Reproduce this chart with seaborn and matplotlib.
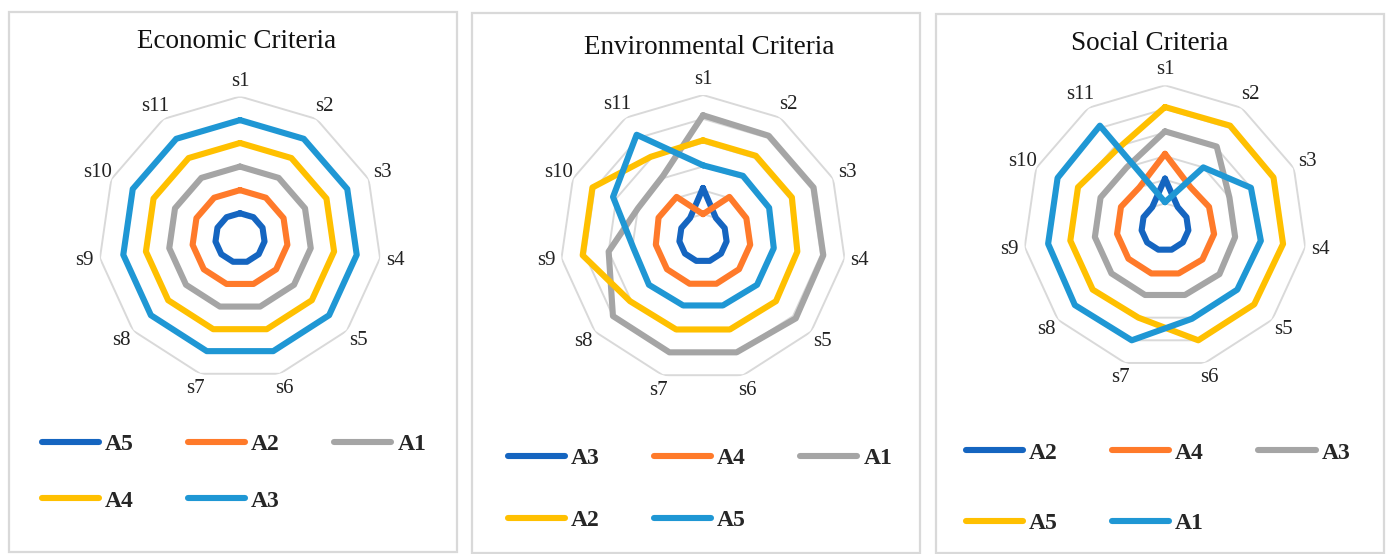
import numpy as np
import pandas as pd
import matplotlib
matplotlib.use("Agg")
import matplotlib.pyplot as plt
import seaborn as sns
from matplotlib.lines import Line2D
from matplotlib.patches import Rectangle

# ---------------- data ----------------
categories = ["s1", "s2", "s3", "s4", "s5", "s6", "s7", "s8", "s9", "s10", "s11"]

econ_title = "Economic Criteria"
econ_series = ["A5", "A2", "A1", "A4", "A3"]
econ_A5 = [1.05, 1.05, 1.05, 1.05, 1.05, 1.05, 1.05, 1.05, 1.05, 1.05, 1.05]
econ_A2 = [2.03, 2.03, 2.03, 2.03, 2.03, 2.03, 2.03, 2.03, 2.03, 2.03, 2.03]
econ_A1 = [3.03, 3.03, 3.03, 3.03, 3.03, 3.03, 3.03, 3.03, 3.03, 3.03, 3.03]
econ_A4 = [4.03, 4.03, 4.03, 4.03, 4.03, 4.03, 4.03, 4.03, 4.03, 4.03, 4.03]
econ_A3 = [5.0, 5.0, 5.0, 5.0, 5.0, 5.0, 5.0, 5.0, 5.0, 5.0, 5.0]

env_title = "Environmental Criteria"
env_series = ["A3", "A4", "A1", "A2", "A5"]
env_A3 = [2.1, 1.0, 1.0, 1.0, 1.0, 1.0, 1.0, 1.0, 1.0, 1.0, 1.0]
env_A4 = [1.0, 2.05, 2.0, 2.0, 2.0, 2.0, 2.0, 2.0, 2.0, 2.05, 2.05]
env_A1 = [5.15, 5.1, 5.1, 5.1, 5.15, 5.0, 5.0, 5.0, 4.0, 3.0, 3.1]
env_A2 = [4.1, 4.1, 4.1, 4.0, 4.05, 4.0, 4.0, 4.05, 5.1, 5.1, 4.05]
env_A5 = [3.05, 3.1, 3.05, 3.0, 3.0, 2.95, 2.95, 3.0, 2.95, 4.15, 5.15]

soc_title = "Social Criteria"
soc_series = ["A2", "A4", "A3", "A5", "A1"]
soc_A2 = [2.05, 1.0, 1.0, 1.0, 1.0, 1.0, 1.0, 1.0, 1.0, 1.0, 1.0]
soc_A4 = [3.1, 2.0, 2.05, 2.1, 2.1, 2.05, 2.05, 2.05, 2.05, 2.05, 2.0]
soc_A3 = [4.05, 4.05, 3.0, 3.0, 3.05, 3.0, 3.0, 3.0, 3.0, 3.0, 3.0]
soc_A5 = [5.08, 5.1, 5.05, 5.05, 5.0, 5.0, 4.0, 4.05, 4.05, 4.05, 3.85]
soc_A1 = [1.05, 3.0, 4.0, 4.1, 4.05, 4.05, 5.0, 5.05, 5.0, 5.0, 5.1]

grid_levels = [1, 2, 3, 4, 5, 6]
r_max = 6

series_colors = ["#1565C0", "#FF7A2A", "#A5A5A5", "#FFC000", "#1F97D4"]

# ---------------- style ----------------
sns.set_theme(style="white")
plt.rcParams["font.family"] = ["Liberation Serif", "DejaVu Serif"]

W, H = 1389, 554
fig = plt.figure(figsize=(W / 100, H / 100), dpi=100)
fig.patch.set_facecolor("white")

panels = [
    dict(title=econ_title, names=econ_series,
         values=[econ_A5, econ_A2, econ_A1, econ_A4, econ_A3],
         cx=240, cy=238, R=141.5, box=(9, 12, 457, 552), title_xy=(237, 42),
         leg_xy=(42, 445.5), leg_space=1.49),
    dict(title=env_title, names=env_series,
         values=[env_A3, env_A4, env_A1, env_A2, env_A5],
         cx=703, cy=238, R=143, box=(472, 13, 920, 553), title_xy=(709, 47),
         leg_xy=(508, 459.5), leg_space=1.71),
    dict(title=soc_title, names=soc_series,
         values=[soc_A2, soc_A4, soc_A3, soc_A5, soc_A1],
         cx=1165, cy=227, R=141.7, box=(936, 14, 1384, 553), title_xy=(1150, 44),
         leg_xy=(966, 454), leg_space=2.07),
]

n = len(categories)
theta_closed = np.arange(n + 1) * 2 * np.pi / n

for p in panels:
    # frame box
    x0, y0, x1, y1 = p["box"]
    fig.patches.append(Rectangle((x0 / W, 1 - y1 / H), (x1 - x0) / W, (y1 - y0) / H,
                                 transform=fig.transFigure, fill=False,
                                 edgecolor="#D9D9D9", linewidth=1.6, zorder=0))
    # title
    fig.text(p["title_xy"][0] / W, 1 - p["title_xy"][1] / H, p["title"],
             ha="center", va="center", fontsize=19.5, color="#111111")

    cx, cy, R = p["cx"], p["cy"], p["R"]
    ax = fig.add_axes([(cx - R) / W, (H - cy - R) / H, 2 * R / W, 2 * R / H],
                      projection="polar")
    ax.set_theta_zero_location("N")
    ax.set_theta_direction(-1)
    ax.set_facecolor("none")

    # polygonal grid
    for lev in grid_levels:
        ax.plot(theta_closed, [lev] * (n + 1), color="#D9D9D9", lw=1.4, zorder=1)

    rows = []
    for name, vals in zip(p["names"], p["values"]):
        closed = list(vals) + [vals[0]]
        for k in range(n + 1):
            rows.append({"series": name, "theta": theta_closed[k], "value": closed[k], "order": k})
    df = pd.DataFrame(rows)

    sns.lineplot(data=df, x="theta", y="value", hue="series", hue_order=p["names"],
                 palette=series_colors, sort=False, estimator=None, units="series",
                 linewidth=4.4, ax=ax, legend=False,
                 solid_joinstyle="round", solid_capstyle="round", zorder=3)

    ax.set_ylim(0, r_max)
    ax.set_xticks([])
    ax.set_yticks([])
    ax.set_xlabel("")
    ax.set_ylabel("")
    ax.grid(False)
    ax.spines["polar"].set_visible(False)

    for k, cat in enumerate(categories):
        ax.text(theta_closed[k], 6.65, cat, ha="center", va="center",
                fontsize=15, color="#222222")

    # legend (row-major appearance -> reorder for column-major filling)
    handles = [Line2D([0], [0], color=c, lw=4.4, solid_capstyle="round") for c in series_colors]
    labels = list(p["names"])
    order = [0, 3, 1, 4, 2]
    lx, ly = p["leg_xy"]
    fig.legend([handles[i] for i in order], [labels[i] for i in order],
               loc="upper left", bbox_to_anchor=(lx / W, 1 - (ly - 12) / H),
               ncol=3, frameon=False, prop={"weight": "bold", "size": 17},
               handlelength=2.42, handletextpad=0.25, columnspacing=2.3,
               labelspacing=p["leg_space"], borderpad=0, borderaxespad=0)

fig.savefig("out.png", dpi=100, facecolor="white")
